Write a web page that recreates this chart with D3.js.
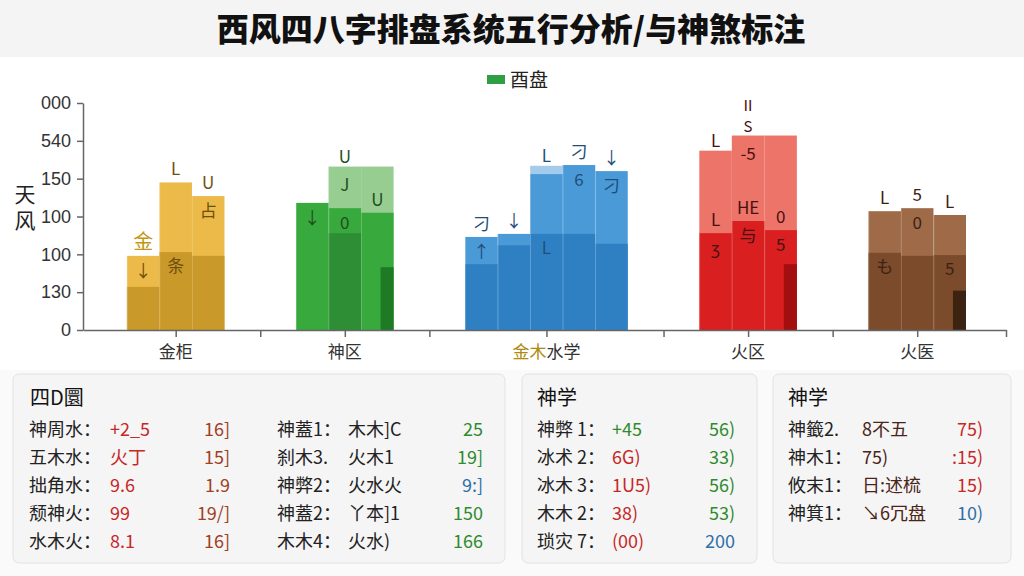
<!DOCTYPE html>
<html><head><meta charset="utf-8">
<script src="https://cdn.jsdelivr.net/npm/d3@7/dist/d3.min.js"></script>
<style>body{margin:0;background:#fff}svg{display:block}</style>
</head><body><svg id="c" width="1024" height="576"></svg>
<script>
// ---------- data ----------
const title = "西风四八字排盘系统五行分析/与神煞标注";
const legendLabel = "酉盘";
const yTitle = "天风";
const yTickValues = [0,50,100,150,200,250,300];
const yTickLabels = ["0","130","100","100","150","540","000"];
const categories = ["金柜","神区","金木水学","火区","火医"];
const topValues  = [[98,195,177],[168,161,155],[123,127,206,218,210],[128,144,132],[157,161,152]];
const baseValues = [[57,103,98],[null,128,null],[87,112,127,127,114],[null,null,null],[102,98,99]];
const backValues = [[null,null,null],[null,216,216],[null,null,217,null,null],[237,257,257],[null,null,null]];
const deepValues = [[null,null,null],[null,null,83],[null,null,null,null,null],[null,null,87],[null,null,52]];
const aboveLabels = [["金","L","U"],["","","U"],["刁","↓","","刁","↓"],["L","HE","0"],["L","5","L"]];
const innerLabels = [["↓","","占"],["↓","0",""],["↑","","","6","刁"],["ʒ","与","5"],["","0",""]];
const baseLabels  = [["","条",""],["","",""],["","","L","",""],["","",""],["も","","5"]];
const backAboveLabels = [["","",""],["","U",""],["","","L","",""],["L","Ⅱ|S",""],["","",""]];
const backInnerLabels = [["","",""],["","J",""],["","","","",""],["","-5",""],["","",""]];

const panelTitles = ["四D圜","神学","神学"];
const p1Labels = ["神周水：","五木水：","拙角水：","颓神火：","水木火："];
const p1ValA = ["+2_5","火丁","9.6","99","8.1"];
const p1ValB = ["16]","15]","1.9","19/]","16]"];
const p1Labels2 = ["神蓋1：","刹木3.","神弊2：","神蓋2：","木木4："];
const p1ValC = ["木木]C","火木1","火水火","丫本]1","火水)"];
const p1ValD = ["25","19]","9:]","150","166"];
const p2Labels = ["神弊 1：","冰术 2：","冰木 3：","木木 2：","琐灾 7："];
const p2ValA = ["+45","6G)","1U5)","38)","(00)"];
const p2ValB = ["56)","33)","56)","53)","200"];
const p3Labels = ["神籤2.","神木1：","攸末1：","神箕1："];
const p3ValA = ["8不五","75)","日:述梳","↘6冗盘"];
const p3ValB = ["75)",":15)","15)","10)"];

// ---------- styles ----------
const palette = [
  {top:"#EBBA48", base:"#C9992A", back:"#F3D58E", deep:"#9C7414", label:"#6E500C"},
  {top:"#38AA3D", base:"#2E8E36", back:"#98CD92", deep:"#1F7A25", label:"#1E4E1E"},
  {top:"#4A9AD8", base:"#2F80C3", back:"#A5CBEB", deep:"#1F5E95", label:"#1F4E79"},
  {top:"#D91F1F", base:"#C41818", back:"#EC7468", deep:"#A30E0E", label:"#4A1010"},
  {top:"#9E6A48", base:"#7B4B2B", back:"#B88A6A", deep:"#3C2211", label:"#3A2212"}
];
const red="#C62828", brown="#A0401E", green="#2E8B2E", blue="#2F6FA8", dark="#222";
const p1ValDColors=[green,green,blue,green,green];
const p2ValAColors=[green,red,red,red,red];
const p2ValBColors=[green,green,green,green,blue];
const p3ValBColors=[red,red,red,blue];
const FONT = "'Noto Sans CJK SC','Noto Sans',sans-serif";
const SANS = "'Liberation Sans','DejaVu Sans',sans-serif";

const svg = d3.select("#c");
svg.append("rect").attr("width",1024).attr("height",57).attr("fill","#F4F4F4");
svg.append("rect").attr("y",57).attr("width",1024).attr("height",313).attr("fill","#FFFFFF");
svg.append("rect").attr("y",370).attr("width",1024).attr("height",206).attr("fill","#FAFAFA");

svg.append("text").attr("x",511).attr("y",41).attr("text-anchor","middle")
  .attr("font-family",FONT).attr("font-weight","900").attr("font-size",32).attr("fill","#111").text(title);

// ---------- scales ----------
const left=83, right=1006, bottom=330, topY=103;
const y = d3.scaleLinear().domain([0,300]).range([bottom,topY]);
const lead=1.35, gap=2.2, tail=1.23;
const groupStart=[]; let acc=lead;
topValues.forEach((g,i)=>{ groupStart.push(acc); acc += g.length + (i<topValues.length-1?gap:0); });
const total = acc + tail;
const x = d3.scaleLinear().domain([0,total]).range([left,right]);
const centers = topValues.map((g,i)=>groupStart[i]+g.length/2);
const bounds = topValues.slice(0,-1).map((g,i)=>(groupStart[i]+g.length+groupStart[i+1])/2).concat([total]);

// ---------- bars ----------
const bars=[];
topValues.forEach((g,gi)=>g.forEach((v,bi)=>bars.push({gi,bi,top:v,base:baseValues[gi][bi],back:backValues[gi][bi],deep:deepValues[gi][bi],x0:groupStart[gi]+bi})));
const bw = x(1)-x(0);
const gBars = svg.append("g");
gBars.selectAll(".back").data(bars.filter(d=>d.back!=null)).join("rect")
  .attr("x",d=>x(d.x0)).attr("width",bw).attr("y",d=>y(d.back)).attr("height",d=>bottom-y(d.back))
  .attr("fill",d=>palette[d.gi].back);
gBars.selectAll(".top").data(bars).join("rect")
  .attr("x",d=>x(d.x0)).attr("width",bw).attr("y",d=>y(d.top)).attr("height",d=>bottom-y(d.top))
  .attr("fill",d=>palette[d.gi].top);
gBars.selectAll(".base").data(bars.filter(d=>d.base!=null)).join("rect")
  .attr("x",d=>x(d.x0)).attr("width",bw).attr("y",d=>y(d.base)).attr("height",d=>bottom-y(d.base))
  .attr("fill",d=>palette[d.gi].base);
gBars.selectAll(".deep").data(bars.filter(d=>d.deep!=null)).join("rect")
  .attr("x",d=>x(d.x0)+bw*0.6).attr("width",bw*0.4).attr("y",d=>y(d.deep)).attr("height",d=>bottom-y(d.deep))
  .attr("fill",d=>palette[d.gi].deep);
gBars.selectAll(".sep").data(bars).join("rect")
  .attr("x",d=>x(d.x0)).attr("width",0.8).attr("y",d=>y(d.top)).attr("height",d=>bottom-y(d.top))
  .attr("fill","rgba(255,255,255,0.25)");

// labels
function lab(arr, valFn, dy){
  bars.forEach(d=>{
    const t = arr[d.gi][d.bi]; const v = valFn(d);
    if(!t || v==null) return;
    const gold = (t==="金");
    const parts = t.split("|");
    parts.slice().reverse().forEach((s,k)=>{
      svg.append("text").attr("x",x(d.x0)+bw/2).attr("y",y(v)+dy-k*21)
        .attr("text-anchor","middle").attr("font-family",FONT).attr("font-size",gold?20:(parts.length>1?15:17))
        .attr("fill",gold?"#C4960F":palette[d.gi].label).text(s);
    });
  });
}
lab(aboveLabels,d=>d.top,-7);
lab(innerLabels,d=>d.top,21);
lab(baseLabels,d=>d.base,20);
lab(backAboveLabels,d=>d.back,-4);
lab(backInnerLabels,d=>d.back,24);

// ---------- axes ----------
const ya = svg.append("g").attr("transform",`translate(${left},0)`)
  .call(d3.axisLeft(y).tickValues(yTickValues).tickFormat((d,i)=>yTickLabels[i]).tickSize(6).tickSizeOuter(0));
ya.selectAll("text").attr("font-family",SANS).attr("font-size",18).attr("fill","#333").attr("dx",-3);
ya.selectAll("line,path").attr("stroke","#666").attr("stroke-width",1.5);

const tickVals = centers.concat(bounds);
const xa = svg.append("g").attr("transform",`translate(0,${bottom})`)
  .call(d3.axisBottom(x).tickValues(tickVals).tickFormat(()=> "").tickSize(7).tickSizeOuter(0));
xa.selectAll("line,path").attr("stroke","#666").attr("stroke-width",1.5);
categories.forEach((c,i)=>{
  const t = svg.append("text").attr("x",x(centers[i])).attr("y",358).attr("text-anchor","middle")
    .attr("font-family",FONT).attr("font-size",17).attr("fill","#333");
  if(i===2){ t.append("tspan").attr("fill","#B08A0C").text(c.slice(0,2)); t.append("tspan").text(c.slice(2)); }
  else t.text(c);
});
svg.append("text").attr("x",25).attr("y",184).attr("writing-mode","vertical-rl")
  .attr("text-anchor","start").attr("letter-spacing",5)
  .attr("font-family",FONT).attr("font-size",21).attr("fill","#222").text(yTitle);

// legend
svg.append("rect").attr("x",487).attr("y",75).attr("width",18).attr("height",9).attr("fill","#2EA043");
svg.append("text").attr("x",510).attr("y",87).attr("font-family",FONT).attr("font-size",19).attr("fill","#222").text(legendLabel);

// ---------- panels ----------
const panels=[{x:13,w:492},{x:522,w:235},{x:773,w:238}];
panels.forEach((p,i)=>{
  svg.append("rect").attr("x",p.x).attr("y",374).attr("width",p.w).attr("height",189).attr("rx",6)
    .attr("fill","#F5F5F5").attr("stroke","#E2E2E2");
  svg.append("text").attr("x",p.x+(i===0?17:15)).attr("y",405).attr("font-family",FONT).attr("font-size",20)
    .attr("fill","#111").text(panelTitles[i]);
});
const rowY = i=>436+i*28;
function col(arr,xp,anchor,colors){
  arr.forEach((s,i)=>svg.append("text").attr("x",xp).attr("y",rowY(i)).attr("text-anchor",anchor)
    .attr("font-family",FONT).attr("font-size",18).attr("fill",typeof colors==="string"?colors:colors[i]).text(s));
}
col(p1Labels,29,"start",dark);
col(p1ValA,110,"start",red);
col(p1ValB,230,"end",brown);
col(p1Labels2,277,"start",dark);
col(p1ValC,348,"start",dark);
col(p1ValD,483,"end",p1ValDColors);
col(p2Labels,537,"start",dark);
col(p2ValA,612,"start",p2ValAColors);
col(p2ValB,735,"end",p2ValBColors);
col(p3Labels,788,"start",dark);
col(p3ValA,862,"start","#4A2418");
col(p3ValB,983,"end",p3ValBColors);
</script></body></html>
